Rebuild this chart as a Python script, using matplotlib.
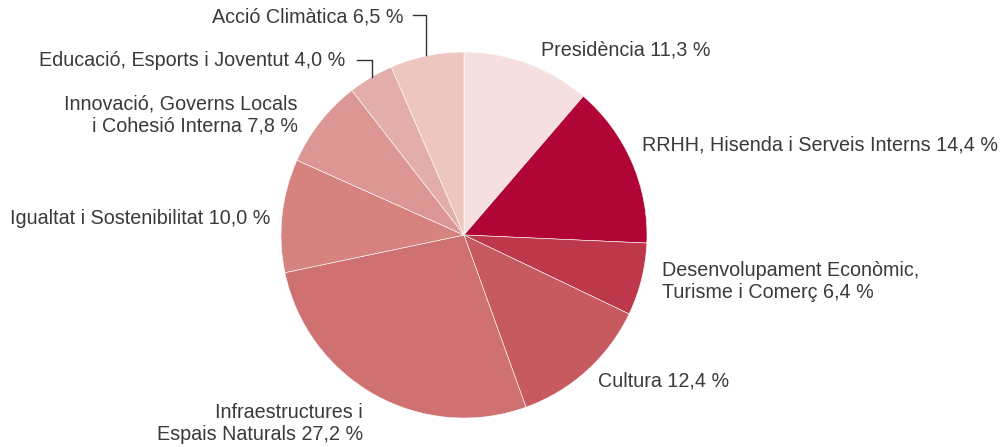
import matplotlib.pyplot as plt

# pressupost per àrees, en percentatge
labels = ["Presidència 11,3 %",
          "RRHH, Hisenda i Serveis Interns 14,4 %",
          "Desenvolupament Econòmic,\nTurisme i Comerç 6,4 %",
          "Cultura 12,4 %",
          "Infraestructures i\nEspais Naturals 27,2 %",
          "Igualtat i Sostenibilitat 10,0 %",
          "Innovació, Governs Locals\ni Cohesió Interna 7,8 %",
          "Educació, Esports i Joventut 4,0 %",
          "Acció Climàtica 6,5 %"]
values = [11.3, 14.4, 6.4, 12.4, 27.2, 10.0, 7.8, 4.0, 6.5]
colors = ["#F5E0DF", "#B00535", "#BC384A", "#C75A5E", "#CF7170",
          "#D6837F", "#DC9794", "#E3ADA9", "#EDC6C0"]

W, H = 1001, 447
fig = plt.figure(figsize=(W / 100, H / 100), dpi=100)
ax = fig.add_axes([0, 0, 1, 1])

ax.pie(values, colors=colors, startangle=90, counterclock=False,
       center=(464, H - 235), radius=183,
       wedgeprops=dict(edgecolor="white", linewidth=0.4))

# pie() resets the limits, so set them afterwards
ax.set_xlim(0, W)
ax.set_ylim(0, H)
ax.set_aspect("equal")
ax.axis("off")

# label positions (x, y from top, alignment)
pos = [(541, 50, "left"), (642, 145, "left"), (662, 281, "left"),
       (598, 381, "left"), (363, 423, "right"), (270, 218, "right"),
       (298, 115, "right"), (345, 60, "right"), (404, 17, "right")]
for txt, (x, y, ha) in zip(labels, pos):
    ax.text(x, H - y, txt, ha=ha, va="center", fontsize=14.2,
            family="Liberation Sans", color="#3a3a3a",
            multialignment=ha, linespacing=1.2)

# leader lines for the small slices
ax.plot([413, 426, 426], [H - 15, H - 15, H - 55], color="#333333", lw=1)
ax.plot([357, 372, 372], [H - 60, H - 60, H - 77], color="#333333", lw=1)

fig.savefig("out.png", dpi=100)
